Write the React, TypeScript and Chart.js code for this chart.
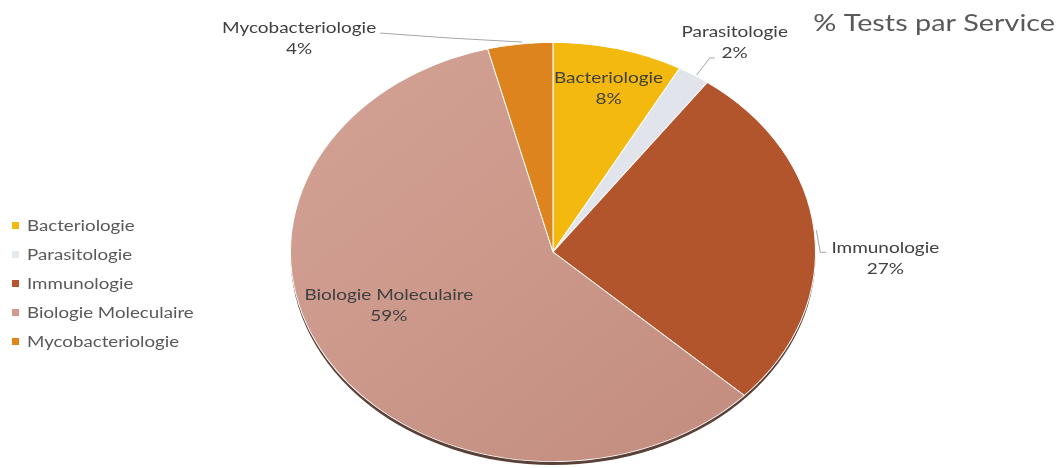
import React, { useEffect, useRef } from "react";
import { Chart, registerables } from "chart.js";

Chart.register(...registerables);

// ---- data ----
const categories = ["Bacteriologie", "Parasitologie", "Immunologie", "Biologie Moleculaire", "Mycobacteriologie"];
const shares = [8, 2, 27, 59, 4];
const percentLabels = ["8%", "2%", "27%", "59%", "4%"];
const chartTitle = "% Tests par Service";

// ---- styles ----
const sliceColors = ["#F4B90E", "#E1E5EB", "#B2552D", "#C9968A", "#DE841E"];
const legendColors = ["#F5BA0C", "#E4E9EF", "#B8532C", "#D49A8C", "#E0841A"];
const PIE_SX = 1.2524; // horizontal stretch of the pie (ellipse)
const TEXT_SX = 1.2; // horizontal stretch of the text
const FONT = "Lato, 'Open Sans', sans-serif";

// label placement per slice (inside: radial factor; outside: leader + text offsets from edge)
const labelPlacement: any[] = [
  { mode: "inside", f: 0.82, dx: 2, dy: -8 },
  { mode: "outside", start: [3, 0], elbow: [16, -17], end: [21, -17], text: [41, -43] },
  { mode: "outside", start: [2, -2], elbow: [6, 20], end: [12, 20], text: [71, 16] },
  { mode: "inside", f: 0.66, dx: -15, dy: -28 },
  { mode: "outside", start: [2, -2], elbow: [-70, -6], end: [-140, -11], text: [-221, -16] },
];

function drawText(ctx: CanvasRenderingContext2D, text: string, x: number, y: number, align: CanvasTextAlign) {
  ctx.save();
  ctx.translate(x, y);
  ctx.scale(TEXT_SX, 1);
  ctx.textAlign = align;
  ctx.textBaseline = "middle";
  ctx.fillText(text, 0, 0);
  ctx.restore();
}

const ellipsePlugin = {
  id: "ellipsePie",
  beforeDatasetsDraw(chart: any) {
    const ctx = chart.ctx as CanvasRenderingContext2D;
    const arc = chart.getDatasetMeta(0).data[0] as any;
    if (!arc) return;
    const { x, y, outerRadius } = arc;
    ctx.save();
    ctx.translate(x, y);
    ctx.scale(PIE_SX, 1);
    ctx.translate(-x, -y);
    // 3D rim below the pie
    ctx.save();
    ctx.beginPath();
    ctx.arc(x, y + 3.5, outerRadius, 0, Math.PI * 2);
    ctx.fillStyle = "#5A4037";
    ctx.fill();
    ctx.restore();
  },
  afterDatasetsDraw(chart: any) {
    chart.ctx.restore();
  },
  afterDraw(chart: any) {
    const ctx = chart.ctx as CanvasRenderingContext2D;
    const meta = chart.getDatasetMeta(0);
    // data labels
    meta.data.forEach((arc: any, i: number) => {
      const { x, y, outerRadius, startAngle, endAngle } = arc;
      const mid = (startAngle + endAngle) / 2;
      const p = labelPlacement[i];
      const ex = x + PIE_SX * outerRadius * Math.cos(mid);
      const ey = y + outerRadius * Math.sin(mid);
      let tx: number, ty: number;
      if (p.mode === "inside") {
        tx = x + PIE_SX * outerRadius * p.f * Math.cos(mid) + p.dx;
        ty = y + outerRadius * p.f * Math.sin(mid) + p.dy;
        ctx.fillStyle = "#404040";
      } else {
        ctx.save();
        ctx.strokeStyle = "#A6A6A6";
        ctx.lineWidth = 1;
        ctx.beginPath();
        ctx.moveTo(ex + p.start[0], ey + p.start[1]);
        ctx.lineTo(ex + p.elbow[0], ey + p.elbow[1]);
        ctx.lineTo(ex + p.end[0], ey + p.end[1]);
        ctx.stroke();
        ctx.restore();
        tx = ex + p.text[0];
        ty = ey + p.text[1];
        ctx.fillStyle = "#404040";
      }
      ctx.font = `15.8px ${FONT}`;
      drawText(ctx, categories[i], tx, ty, "center");
      drawText(ctx, percentLabels[i], tx, ty + 21, "center");
    });
    // legend
    ctx.font = `15.6px ${FONT}`;
    categories.forEach((c, i) => {
      const cy = 226 + i * 29;
      ctx.fillStyle = legendColors[i];
      ctx.fillRect(12, cy - 4, 7, 7);
      ctx.fillStyle = "#595959";
      drawText(ctx, c, 27, cy, "left");
    });
    // title
    ctx.font = `24px ${FONT}`;
    ctx.fillStyle = "#595959";
    drawText(ctx, chartTitle, 1055, 23, "right");
  },
};

export default function App() {
  const canvasRef = useRef<HTMLCanvasElement | null>(null);

  useEffect(() => {
    document.body.style.margin = "0";
    const canvas = canvasRef.current;
    if (!canvas) return;
    const chart = new Chart(canvas, {
      type: "pie",
      data: {
        labels: categories,
        datasets: [
          {
            data: shares,
            backgroundColor: (c: any) => {
              const i = c.dataIndex;
              if (i === 3 && c.chart.chartArea) {
                const a = c.chart.chartArea;
                const g = c.chart.ctx.createLinearGradient(a.left, a.top, a.right, a.bottom);
                g.addColorStop(0, "#D4A396");
                g.addColorStop(1, "#C18B7D");
                return g;
              }
              return sliceColors[i];
            },
            borderColor: "#FFFFFF",
            borderWidth: 0.8,
            clip: false as any,
          },
        ],
      },
      options: {
        responsive: false,
        animation: false,
        devicePixelRatio: 1,
        events: [],
        rotation: 0,
        layout: { padding: { left: 343, right: 294, top: 42, bottom: 6 } },
        plugins: {
          legend: { display: false },
          title: { display: false },
          tooltip: { enabled: false },
        },
      },
      plugins: [ellipsePlugin],
    });
    return () => chart.destroy();
  }, []);

  return (
    <div style={{ position: "fixed", left: 0, top: 0, width: 1057, height: 468, background: "#fff" }}>
      <canvas ref={canvasRef} width={1057} height={468} />
    </div>
  );
}
